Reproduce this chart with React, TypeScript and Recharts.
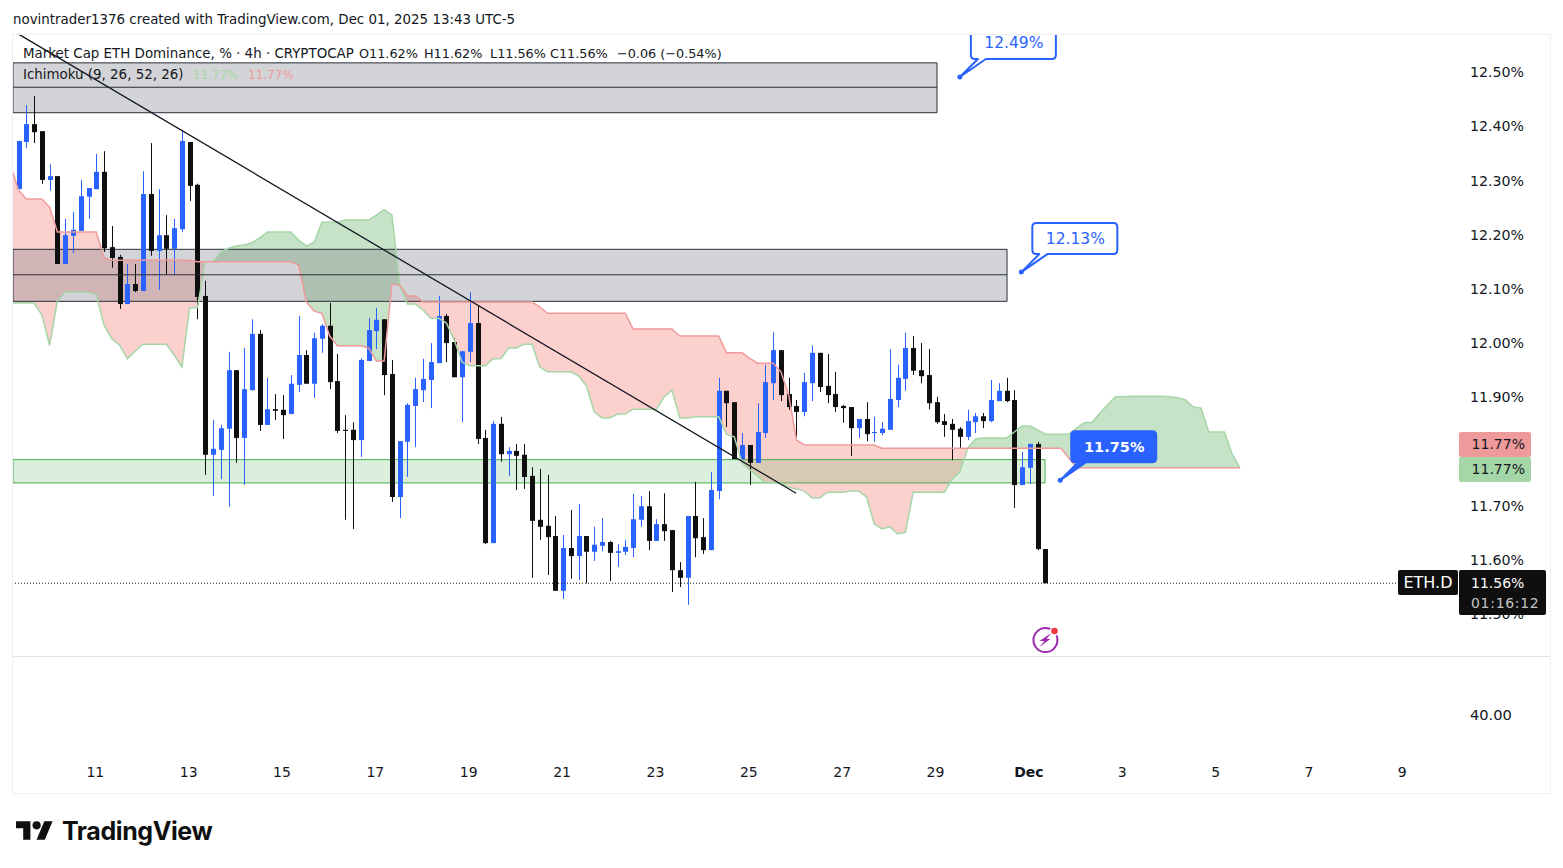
import { Area, Bar, ComposedChart, Line, ReferenceArea, ReferenceDot, ReferenceLine, XAxis, YAxis } from "recharts"

const FONT = "'DejaVu Sans', sans-serif"
const INK = "#131722"
const BLUE = "#2962ff"
const BLACK = "#0f0f0f"

// one candle every 4h, index 0 is the first candle on screen
const highs = [
  12.373,12.439,12.456,12.391,12.330,12.308,12.229,12.242,12.301,12.286,
  12.349,12.354,12.216,12.163,12.146,12.146,12.317,12.369,12.284,12.236,
  12.229,12.393,12.371,12.294,12.115,11.858,11.849,11.984,11.950,11.991,
  12.044,12.024,11.936,11.906,11.904,11.941,12.050,11.987,12.019,12.035,
  12.074,11.980,11.867,11.854,11.972,12.046,12.065,12.044,11.969,11.819,
  11.889,11.936,11.971,12.000,12.087,12.054,12.009,11.985,12.094,12.070,
  11.840,11.856,11.864,11.808,11.814,11.814,11.771,11.768,11.757,11.681,
  11.646,11.692,11.703,11.644,11.661,11.677,11.635,11.629,11.637,11.722,
  11.718,11.727,11.675,11.723,11.655,11.596,11.681,11.744,11.677,11.762,
  11.936,11.912,11.891,11.834,11.812,11.889,11.960,12.020,11.987,11.936,
  11.895,11.945,11.996,11.982,11.980,11.947,11.886,11.882,11.860,11.891,
  11.864,11.854,11.989,11.960,12.019,12.013,12.000,11.989,11.901,11.869,
  11.860,11.845,11.877,11.871,11.871,11.932,11.926,11.936,11.913,11.799,
  11.814,11.818,11.620,
]
const lows = [
  12.284,12.360,12.369,12.294,12.281,12.146,12.146,12.166,12.207,12.229,
  12.284,12.168,12.139,12.063,12.072,12.094,12.096,12.161,12.098,12.126,
  12.126,12.205,12.262,12.044,11.757,11.718,11.749,11.698,11.779,11.738,
  11.913,11.838,11.849,11.858,11.823,11.869,11.910,11.925,11.899,11.982,
  11.915,11.834,11.674,11.657,11.790,11.967,11.989,11.904,11.707,11.677,
  11.753,11.808,11.891,11.880,11.963,11.965,11.937,11.854,11.965,11.814,
  11.629,11.631,11.781,11.755,11.729,11.731,11.567,11.637,11.572,11.543,
  11.528,11.565,11.563,11.557,11.598,11.616,11.561,11.587,11.609,11.605,
  11.661,11.618,11.635,11.635,11.541,11.550,11.517,11.605,11.611,11.618,
  11.712,11.845,11.786,11.786,11.738,11.779,11.825,11.895,11.893,11.877,
  11.827,11.865,11.893,11.910,11.889,11.873,11.853,11.792,11.825,11.819,
  11.818,11.830,11.840,11.882,11.912,11.941,11.926,11.878,11.851,11.827,
  11.784,11.805,11.821,11.834,11.843,11.854,11.893,11.891,11.696,11.738,
  11.740,11.618,11.557,
]
const opens = [
  12.284,12.371,12.404,12.391,12.301,12.308,12.146,12.198,12.207,12.270,
  12.284,12.316,12.177,12.159,12.072,12.109,12.096,12.275,12.170,12.199,
  12.174,12.210,12.371,12.292,12.087,11.794,11.803,11.842,11.950,11.825,
  11.913,12.017,11.849,11.878,11.877,11.869,11.923,11.978,11.925,12.008,
  12.032,11.930,11.840,11.840,11.821,11.967,12.022,12.044,11.943,11.716,
  11.818,11.884,11.913,11.932,11.963,12.050,12.002,11.937,11.984,12.037,
  11.825,11.631,11.851,11.795,11.801,11.794,11.755,11.674,11.663,11.644,
  11.543,11.622,11.607,11.644,11.615,11.626,11.633,11.613,11.615,11.622,
  11.674,11.699,11.635,11.666,11.655,11.581,11.567,11.681,11.642,11.618,
  11.727,11.912,11.891,11.786,11.812,11.779,11.834,11.926,11.987,11.906,
  11.884,11.873,11.926,11.982,11.921,11.906,11.884,11.882,11.843,11.860,
  11.834,11.834,11.840,11.895,11.934,11.991,11.950,11.941,11.891,11.856,
  11.851,11.842,11.827,11.854,11.865,11.856,11.893,11.912,11.895,11.738,
  11.770,11.814,11.620,
]
const closes = [
  12.373,12.404,12.389,12.301,12.308,12.146,12.199,12.209,12.271,12.286,
  12.316,12.175,12.157,12.072,12.109,12.096,12.275,12.170,12.199,12.174,
  12.212,12.373,12.290,12.085,11.794,11.805,11.843,11.950,11.825,11.915,
  12.017,11.849,11.878,11.875,11.867,11.925,11.978,11.925,12.009,12.032,
  11.928,11.838,11.838,11.821,11.969,12.024,12.043,11.941,11.716,11.819,
  11.886,11.915,11.934,11.965,12.050,12.000,11.937,11.985,12.037,11.823,
  11.631,11.851,11.795,11.801,11.792,11.753,11.672,11.661,11.642,11.543,
  11.622,11.607,11.644,11.615,11.628,11.633,11.613,11.616,11.624,11.675,
  11.699,11.635,11.666,11.653,11.581,11.567,11.681,11.640,11.618,11.729,
  11.912,11.889,11.786,11.812,11.779,11.836,11.928,11.987,11.904,11.882,
  11.873,11.928,11.982,11.919,11.904,11.882,11.880,11.843,11.860,11.832,
  11.836,11.842,11.897,11.936,11.991,11.949,11.939,11.889,11.854,11.849,
  11.840,11.827,11.856,11.865,11.856,11.895,11.912,11.893,11.738,11.771,
  11.814,11.620,11.557,
]

// Ichimoku spans, first value sits one candle left of index 0
const spanA = [
  12.074,12.074,12.074,12.074,12.052,11.996,12.078,12.094,12.094,12.094,
  12.094,12.089,12.033,12.008,11.996,11.971,11.985,11.998,11.998,11.998,
  11.998,11.978,11.956,12.065,12.065,12.150,12.150,12.168,12.175,12.179,
  12.181,12.185,12.194,12.205,12.205,12.205,12.205,12.190,12.179,12.186,
  12.223,12.223,12.223,12.227,12.227,12.227,12.227,12.236,12.246,12.236,
  12.107,12.072,12.072,12.061,12.046,12.046,12.037,12.006,11.965,11.958,
  11.958,11.958,11.971,11.971,11.991,11.991,11.998,11.998,11.956,11.947,
  11.947,11.947,11.947,11.939,11.921,11.873,11.862,11.862,11.869,11.869,
  11.878,11.878,11.878,11.878,11.901,11.913,11.862,11.862,11.864,11.864,
  11.864,11.864,11.832,11.827,11.779,11.766,11.755,11.742,11.742,11.742,
  11.734,11.731,11.727,11.714,11.714,11.725,11.725,11.725,11.727,11.727,
  11.716,11.666,11.657,11.661,11.648,11.651,11.725,11.725,11.725,11.725,
  11.725,11.749,11.762,11.806,11.823,11.825,11.825,11.825,11.825,11.836,
  11.847,11.847,11.840,11.832,11.832,11.832,11.832,11.843,11.853,11.854,
  11.871,11.886,11.901,11.901,11.902,11.902,11.902,11.902,11.902,11.901,
  11.899,11.895,11.882,11.880,11.836,11.836,11.836,11.795,11.770,
]
const spanB = [
  12.327,12.282,12.266,12.266,12.266,12.251,12.205,12.205,12.205,12.205,
  12.205,12.205,12.157,12.153,12.153,12.153,12.153,12.153,12.153,12.153,
  12.153,12.153,12.153,12.153,12.150,12.150,12.150,12.150,12.150,12.150,
  12.150,12.150,12.150,12.150,12.150,12.150,12.150,12.144,12.076,12.059,
  12.055,12.013,11.995,11.995,11.995,11.995,11.991,11.967,11.967,12.109,
  12.107,12.087,12.087,12.076,12.076,12.076,12.076,12.076,12.076,12.076,
  12.076,12.076,12.076,12.076,12.076,12.076,12.076,12.076,12.067,12.055,
  12.055,12.055,12.055,12.055,12.055,12.055,12.055,12.055,12.055,12.055,
  12.026,12.026,12.026,12.026,12.026,12.026,12.013,12.013,12.013,12.013,
  12.013,12.013,11.982,11.982,11.982,11.972,11.963,11.963,11.963,11.947,
  11.904,11.821,11.812,11.812,11.812,11.812,11.812,11.812,11.812,11.812,
  11.812,11.812,11.806,11.806,11.806,11.806,11.806,11.806,11.806,11.806,
  11.806,11.806,11.806,11.806,11.806,11.806,11.806,11.806,11.806,11.806,
  11.806,11.806,11.806,11.806,11.806,11.806,11.788,11.770,11.770,11.770,
  11.770,11.770,11.770,11.770,11.770,11.770,11.770,11.770,11.770,11.770,
  11.770,11.770,11.770,11.770,11.770,11.770,11.770,11.770,11.770,
]

// 11.80 is left out, it sits behind the cloud labels on the scale
const priceTicks = [11.5, 11.6, 11.7, 11.9, 12.0, 12.1, 12.2, 12.3, 12.4, 12.5]
const timeTicks = [10, 22, 34, 46, 58, 70, 82, 94, 106, 118, 130, 142, 154, 166, 178]
const timeLabels = ["11", "13", "15", "17", "19", "21", "23", "25", "27", "29", "Dec", "3", "5", "7", "9"]

const xDomain = [-0.707, 184.77]
const yDomain = [11.4227, 12.5684]

// drawn zones: top, middle line, bottom, candle index of the right edge
const upperZone = [12.517, 12.472, 12.425, 118.06]
const middleZone = [12.173, 12.126, 12.077, 127.06]
const greenZone = [11.785, 11.742, 131.95]
const trendStart = [0.0, 12.57]
const trendEnd = [99.95, 11.723]
const lastPrice = 11.557
const callouts = [
  { x: 121, y: 12.491, label: "12.49%" },
  { x: 128.9, y: 12.131, label: "12.13%" },
]
const activeCallout = { x: 133.9, y: 11.747, label: "11.75%" }
const flash = { x: 132, y: 11.452 }
const ohlcLabels = [
  { left: 359, text: "O11.62%" },
  { left: 424, text: "H11.62%" },
  { left: 490, text: "L11.56%" },
  { left: 550, text: "C11.56%" },
  { left: 617, text: "−0.06 (−0.54%)" },
]

const rows: any[] = spanA.map((a, n) => {
  const b = spanB[n]
  const i = n - 1
  const row: any = { i, spanA: a, spanB: b, red: [a, Math.max(a, b)], green: [b, Math.max(a, b)] }
  if (i >= 0 && i < highs.length) {
    row.range = [lows[i], highs[i]]
    row.open = opens[i]
    row.close = closes[i]
    row.high = highs[i]
    row.low = lows[i]
  }
  return row
})

function Candle(props: any) {
  const { x, y, width, height, payload } = props
  if (!payload || payload.high == null) return null
  const cx = Math.round(x + width / 2 + 0.39) + 0.5
  const span = payload.high - payload.low
  const perUnit = span > 0 ? height / span : 0
  const top = y + (payload.high - Math.max(payload.open, payload.close)) * perUnit
  const bottom = y + (payload.high - Math.min(payload.open, payload.close)) * perUnit
  const color = payload.close >= payload.open ? BLUE : BLACK
  return (
    <g>
      <line x1={cx} x2={cx} y1={y} y2={y + height} stroke={color} strokeWidth={1} />
      <rect x={cx - 2.5} y={top} width={5} height={Math.max(bottom - top, 1)} fill={color} />
    </g>
  )
}

function XTick({ x, y, payload }: any) {
  const label = timeLabels[timeTicks.indexOf(payload.value)]
  return (
    <text x={x - 1} y={y} textAnchor="middle" dominantBaseline="central" fontSize={14} fontFamily={FONT} fill={INK} fontWeight={label === "Dec" ? 700 : 400}>
      {label}
    </text>
  )
}

function calloutPath(cx: number, cy: number) {
  const l = cx + 11
  const r = cx + 96
  const t = cy - 49
  const b = cy - 18
  return `M${l + 4} ${t}H${r - 4}Q${r} ${t} ${r} ${t + 4}V${b - 4}Q${r} ${b} ${r - 4} ${b}H${cx + 26}L${cx} ${cy}L${cx + 18} ${b}H${l + 4}Q${l} ${b} ${l} ${b - 4}V${t + 4}Q${l} ${t} ${l + 4} ${t}Z`
}

function Callout({ cx, cy, label, solid }: any) {
  return (
    <g clipPath="url(#paneClip)">
      <path d={calloutPath(cx, cy)} fill={solid ? BLUE : "#fff"} stroke={BLUE} strokeWidth={2} strokeLinejoin="round" />
      <circle cx={cx} cy={cy} r={2.5} fill={BLUE} />
      <text x={cx + 54} y={cy - 33.5} textAnchor="middle" dominantBaseline="central" fontSize={solid ? 14.5 : 15.5} fontFamily={FONT} fontWeight={solid ? 700 : 500} fill={solid ? "#fff" : BLUE}>
        {label}
      </text>
    </g>
  )
}

function Flash({ cx, cy }: any) {
  return (
    <g>
      <circle cx={cx} cy={cy} r={12} fill="#fff" stroke="#9c27b0" strokeWidth={2} />
      <path d={`M${cx + 6} ${cy - 7}L${cx + 1} ${cy - 1}H${cx + 5}L${cx - 6} ${cy + 7}L${cx - 1} ${cy + 1}H${cx - 6}Z`} fill="#9c27b0" />
      <circle cx={cx + 9} cy={cy - 9} r={4} fill="#f23645" stroke="#fff" strokeWidth={1.5} />
    </g>
  )
}

const abs = (left: number, top: number, extra: any = {}): any => ({
  position: "absolute",
  left,
  top,
  fontFamily: FONT,
  fontSize: 13.4,
  lineHeight: "20px",
  color: INK,
  whiteSpace: "pre",
  ...extra,
})

function PriceBox({ top, height, left, width, bg, children, extra }: any) {
  return (
    <div style={abs(left, top, { width, height, background: bg, fontSize: 14, lineHeight: height + "px", borderRadius: 2, ...extra })}>{children}</div>
  )
}

export default function App() {
  return (
    <div style={{ position: "absolute", left: 0, top: 0, width: 1563, height: 868, background: "#fff", overflow: "hidden" }}>
      <ComposedChart width={1563} height={868} data={rows} margin={{ top: 35, right: 0, bottom: 0, left: 13 }}>
        <defs>
          <clipPath id="paneClip">
            <rect x={13} y={35} width={1443} height={621} />
          </clipPath>
        </defs>
        <XAxis
          dataKey="i"
          type="number"
          domain={xDomain}
          allowDataOverflow
          ticks={timeTicks}
          interval={0}
          height={212}
          axisLine={false}
          tickLine={false}
          tickMargin={110}
          tick={<XTick />}
        />
        <YAxis
          orientation="right"
          type="number"
          domain={yDomain}
          allowDataOverflow
          ticks={priceTicks}
          interval={0}
          width={107}
          axisLine={false}
          tickLine={false}
          tickMargin={8}
          tickFormatter={(v: number) => v.toFixed(2) + "%"}
          tick={{ fontSize: 14.2, fontFamily: FONT, fill: INK, textAnchor: "start" }}
        />
        <Area dataKey="red" type="linear" stroke="none" fill="#f44336" fillOpacity={0.25} dot={false} activeDot={false} isAnimationActive={false} />
        <Area dataKey="green" type="linear" stroke="none" fill="#43a047" fillOpacity={0.3} dot={false} activeDot={false} isAnimationActive={false} />
        <Line dataKey="spanA" type="linear" stroke="#a5d6a7" strokeWidth={1.5} dot={false} activeDot={false} isAnimationActive={false} />
        <Line dataKey="spanB" type="linear" stroke="#ef9a9a" strokeWidth={1.5} dot={false} activeDot={false} isAnimationActive={false} />
        <Bar dataKey="range" barSize={1} shape={<Candle />} isAnimationActive={false} />

        <ReferenceArea x1={xDomain[0]} x2={upperZone[3]} y1={upperZone[0]} y2={upperZone[2]} ifOverflow="visible" fill="#787b86" fillOpacity={0.33} stroke="#2a2e39" strokeWidth={1} />
        <ReferenceLine segment={[{ x: xDomain[0], y: upperZone[1] }, { x: upperZone[3], y: upperZone[1] }]} ifOverflow="visible" stroke="#2a2e39" />
        <ReferenceArea x1={xDomain[0]} x2={middleZone[3]} y1={middleZone[0]} y2={middleZone[2]} ifOverflow="visible" fill="#787b86" fillOpacity={0.33} stroke="#2a2e39" strokeWidth={1} />
        <ReferenceLine segment={[{ x: xDomain[0], y: middleZone[1] }, { x: middleZone[3], y: middleZone[1] }]} ifOverflow="visible" stroke="#2a2e39" />
        <ReferenceArea x1={xDomain[0]} x2={greenZone[2]} y1={greenZone[0]} y2={greenZone[1]} ifOverflow="visible" fill="#4caf50" fillOpacity={0.2} stroke="#4caf50" strokeWidth={1} />
        <ReferenceLine segment={[{ x: trendStart[0], y: trendStart[1] }, { x: trendEnd[0], y: trendEnd[1] }]} ifOverflow="visible" stroke="#131722" strokeWidth={1.3} />
        <ReferenceLine y={lastPrice} ifOverflow="visible" stroke="#131722" strokeDasharray="1 2" />

        {callouts.map((c) => (
          <ReferenceDot key={c.label} x={c.x} y={c.y} r={3} ifOverflow="visible" shape={(p: any) => <Callout cx={p.cx} cy={p.cy} label={c.label} />} />
        ))}
        <ReferenceDot x={activeCallout.x} y={activeCallout.y} r={3} ifOverflow="visible" shape={(p: any) => <Callout cx={p.cx} cy={p.cy} label={activeCallout.label} solid />} />
        <ReferenceDot x={flash.x} y={flash.y} r={3} ifOverflow="visible" shape={(p: any) => <Flash cx={p.cx} cy={p.cy} />} />
      </ComposedChart>

      <div style={{ position: "absolute", left: 12, top: 34, width: 1537, height: 758, border: "1px solid #eef0f5", pointerEvents: "none" }} />
      <div style={{ position: "absolute", left: 13, top: 656, width: 1537, height: 1, background: "#e0e3eb" }} />

      <div style={abs(13, 10)}>novintrader1376 created with TradingView.com, Dec 01, 2025 13:43 UTC-5</div>
      <div style={abs(23, 44)}>Market Cap ETH Dominance, % · 4h · CRYPTOCAP</div>
      {ohlcLabels.map((o) => (
        <div key={o.text} style={abs(o.left, 44, { fontSize: 12.8 })}>{o.text}</div>
      ))}
      <div style={abs(23, 65)}>Ichimoku (9, 26, 52, 26)</div>
      <div style={abs(193, 65, { color: "#a5d6a7", fontSize: 12 })}>11.77%</div>
      <div style={abs(248, 65, { color: "#ef9a9a", fontSize: 12 })}>11.77%</div>

      <div style={abs(1470, 705, { fontSize: 14.6 })}>40.00</div>
      <PriceBox left={1459} top={432} width={72} height={25} bg="#ef9a9a" extra={{ textAlign: "right", boxSizing: "border-box", paddingRight: 6 }}>11.77%</PriceBox>
      <PriceBox left={1459} top={457} width={72} height={25} bg="#a5d6a7" extra={{ textAlign: "right", boxSizing: "border-box", paddingRight: 6 }}>11.77%</PriceBox>
      <PriceBox left={1398} top={570} width={60} height={25} bg={BLACK} extra={{ color: "#fff", textAlign: "center", fontSize: 16 }}>ETH.D</PriceBox>
      <div style={abs(1459, 570, { width: 87, height: 45, background: BLACK, borderRadius: 2, color: "#fff", fontSize: 14 })}>
        <div style={{ position: "absolute", left: 12, top: 3 }}>11.56%</div>
        <div style={{ position: "absolute", left: 12, top: 23, color: "#c4c4c4", letterSpacing: "0.7px" }}>01:16:12</div>
      </div>

      <svg style={{ position: "absolute", left: 15.7, top: 816.6 }} width={38} height={26} viewBox="0 0 36.9 25.2">
        <path d="M14 22H7V11H0V4h14v18zM28 22h-8l7.5-18h8L28 22z" fill="#0f0f0f" />
        <circle cx={20} cy={8} r={4} fill="#0f0f0f" />
      </svg>
      <div style={abs(62, 815, { fontSize: 25, lineHeight: "32px", fontWeight: 700, color: "#0f0f0f", fontFamily: "Inter, sans-serif", letterSpacing: "-0.4px" })}>TradingView</div>
    </div>
  )
}
